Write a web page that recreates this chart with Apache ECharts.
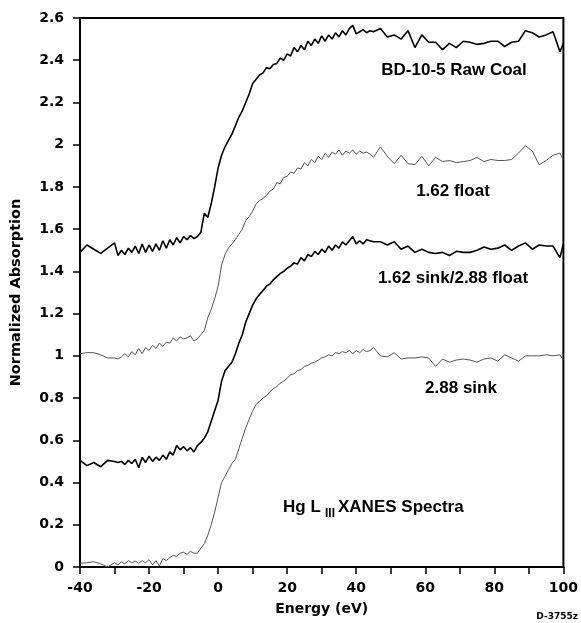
<!DOCTYPE html>
<html>
<head>
<meta charset="utf-8">
<script src="https://cdn.jsdelivr.net/npm/echarts@6/dist/echarts.min.js"></script>
<style>
html,body{margin:0;padding:0;background:#fff;}
#chart{width:581px;height:623px;}
</style>
</head>
<body>
<div id="chart"></div>
<script>
// Energy sample points (eV)
const energy = [-40,-38,-36,-34,-32,
-30,-29,-28,-27,-26,-25,-24,-23,-22,-21,
-20,-19,-18,-17,-16,-15,-14,-13,-12,-11,
-10,-9,-8,-7,-6,-5,-4,-3,-2,-1,
0,1,2,3,4,5,6,7,8,9,
10,11,12,13,14,15,16,17,18,19,
20,21,22,23,24,25,26,27,28,29,
30,31,32,33,34,35,36,37,38,39,
40,41,42,43,44,45,
47,49,51,53,55,57,59,61,63,65,67,69,71,73,75,77,79,81,83,85,87,89,91,93,95,97,99,100];

const rawCoal = [1.49,1.525,1.505,1.485,1.51,
1.535,1.475,1.50,1.48,1.51,1.49,1.52,1.485,1.53,1.49,
1.525,1.495,1.53,1.50,1.545,1.51,1.55,1.525,1.56,1.535,
1.565,1.55,1.57,1.555,1.565,1.585,1.675,1.655,1.72,1.80,
1.89,1.95,1.99,2.02,2.05,2.09,2.13,2.16,2.20,2.24,
2.29,2.31,2.33,2.34,2.365,2.36,2.38,2.385,2.41,2.40,
2.43,2.42,2.46,2.44,2.47,2.45,2.49,2.47,2.50,2.48,
2.515,2.49,2.52,2.50,2.53,2.51,2.54,2.52,2.55,2.565,
2.525,2.535,2.545,2.53,2.54,2.535,
2.55,2.51,2.52,2.50,2.54,2.46,2.52,2.485,2.485,2.45,2.48,2.46,2.49,2.485,2.475,2.48,2.49,2.49,2.465,2.485,2.49,2.54,2.53,2.51,2.52,2.535,2.44,2.48];

const float162 = [1.01,1.015,1.015,1.005,0.99,
0.99,0.985,0.995,1.01,0.995,1.02,1.005,1.035,1.01,1.04,
1.025,1.05,1.035,1.06,1.045,1.065,1.06,1.085,1.07,1.09,
1.08,1.085,1.095,1.07,1.08,1.10,1.12,1.18,1.22,1.27,
1.33,1.43,1.48,1.51,1.53,1.55,1.575,1.60,1.64,1.66,
1.685,1.72,1.735,1.745,1.76,1.78,1.79,1.82,1.815,1.845,
1.85,1.87,1.865,1.89,1.885,1.915,1.90,1.93,1.915,1.945,
1.93,1.96,1.94,1.965,1.955,1.975,1.95,1.97,1.96,1.975,
1.955,1.97,1.96,1.965,1.955,1.94,
1.99,1.945,1.91,1.95,1.91,1.905,1.945,1.90,1.94,1.92,1.925,1.915,1.92,1.925,1.94,1.92,1.93,1.925,1.925,1.93,1.96,1.995,1.97,1.905,1.925,1.95,1.96,1.93];

const sink162float288 = [0.505,0.48,0.495,0.475,0.505,
0.50,0.495,0.50,0.485,0.505,0.49,0.51,0.47,0.52,0.495,
0.525,0.50,0.52,0.505,0.53,0.51,0.545,0.53,0.575,0.555,
0.57,0.55,0.565,0.545,0.575,0.59,0.61,0.64,0.69,0.74,
0.79,0.88,0.93,0.95,0.97,1.01,1.06,1.10,1.16,1.20,
1.24,1.27,1.29,1.31,1.33,1.34,1.36,1.375,1.39,1.40,
1.415,1.425,1.44,1.435,1.465,1.45,1.48,1.47,1.495,1.48,
1.505,1.49,1.52,1.50,1.525,1.51,1.54,1.525,1.545,1.565,
1.53,1.545,1.53,1.55,1.545,1.54,
1.54,1.525,1.54,1.505,1.52,1.49,1.505,1.49,1.485,1.49,1.475,1.495,1.49,1.49,1.50,1.515,1.505,1.51,1.525,1.50,1.52,1.535,1.505,1.525,1.52,1.52,1.465,1.53];

const sink288 = [0.018,0.02,0.025,0.015,0.0,
0.02,0.01,0.025,0.015,0.03,0.02,0.028,0.018,0.03,0.02,
0.035,0.01,0.03,0.005,0.04,0.03,0.045,0.055,0.05,0.065,
0.07,0.06,0.075,0.065,0.065,0.09,0.11,0.15,0.20,0.26,
0.33,0.40,0.43,0.46,0.49,0.51,0.56,0.61,0.66,0.70,
0.74,0.77,0.785,0.80,0.81,0.83,0.845,0.855,0.87,0.88,
0.895,0.91,0.915,0.93,0.935,0.95,0.955,0.965,0.97,0.98,
0.99,0.995,1.005,1.0,1.015,1.01,1.02,1.015,1.025,1.01,
1.025,1.015,1.03,1.02,1.025,1.04,
1.00,0.995,1.015,0.985,0.99,0.99,0.995,0.99,0.95,0.985,0.97,0.98,0.985,0.98,0.97,0.985,0.99,0.975,1.005,0.99,0.975,1.0,1.0,1.0,1.005,1.0,1.005,0.98];

const seriesNames = ['BD-10-5 Raw Coal','1.62 float','1.62 sink/2.88 float','2.88 sink'];
const seriesValues = [rawCoal, float162, sink162float288, sink288];

const xTickLabels = [-40,-20,0,20,40,60,80,100];
const yTickLabels = [0,0.2,0.4,0.6,0.8,1,1.2,1.4,1.6,1.8,2,2.2,2.4,2.6];

const FONT = '"DejaVu Sans", sans-serif';
const AFONT = '"Liberation Sans", Arial, sans-serif';

const styles = [
  {color:'#000', width:1.6},
  {color:'#555', width:1},
  {color:'#000', width:1.6},
  {color:'#555', width:1}
];

const chart = echarts.init(document.getElementById('chart'), null, {renderer:'canvas'});

const option = {
  backgroundColor:'#fff',
  animation:false,
  grid:{left:80, right:17, top:18, bottom:56, show:true, borderColor:'#000', borderWidth:2, backgroundColor:'transparent'},
  xAxis:{
    type:'value', min:-40, max:100, interval:10,
    name:'Energy (eV)', nameLocation:'middle', nameGap:35,
    nameTextStyle:{fontFamily:FONT, fontWeight:'bold', fontSize:14, color:'#000'},
    axisLine:{show:true, onZero:false, lineStyle:{color:'#000', width:2}},
    axisTick:{show:true, length:7, lineStyle:{color:'#000', width:1.5}},
    axisLabel:{margin:14, fontFamily:FONT, fontWeight:'bold', fontSize:14, color:'#000',
      formatter:function(v){ return xTickLabels.indexOf(v) >= 0 ? String(v) : ''; }},
    splitLine:{show:false}
  },
  yAxis:{
    type:'value', min:0, max:2.6, interval:0.2,
    name:'Normalized Absorption', nameLocation:'middle', nameGap:56,
    nameTextStyle:{fontFamily:FONT, fontWeight:'bold', fontSize:14.5, color:'#000'},
    axisLine:{show:true, onZero:false, lineStyle:{color:'#000', width:2}},
    axisTick:{show:true, length:7, lineStyle:{color:'#000', width:1.5}},
    axisLabel:{margin:16, fontFamily:FONT, fontWeight:'bold', fontSize:14, color:'#000',
      formatter:function(v){ const r = Math.round(v*10)/10; return yTickLabels.indexOf(r) >= 0 ? String(r) : ''; }},
    splitLine:{show:false}
  },
  series: seriesNames.map(function(n, k){
    return {
      name:n, type:'line', showSymbol:false, symbol:'none',
      lineStyle:{color:styles[k].color, width:styles[k].width},
      data: energy.map(function(e,i){ return [e, seriesValues[k][i]]; })
    };
  }),
  graphic:[
    {type:'text', x:454, y:70, style:{text:'BD-10-5 Raw Coal', font:'bold 17px '+AFONT, fill:'#000', align:'center', verticalAlign:'middle'}},
    {type:'text', x:453, y:191, style:{text:'1.62 float', font:'bold 17px '+AFONT, fill:'#000', align:'center', verticalAlign:'middle'}},
    {type:'text', x:453, y:278, style:{text:'1.62 sink/2.88 float', font:'bold 17px '+AFONT, fill:'#000', align:'center', verticalAlign:'middle'}},
    {type:'text', x:461, y:388, style:{text:'2.88 sink', font:'bold 17px '+AFONT, fill:'#000', align:'center', verticalAlign:'middle'}},
    {type:'text', x:283, y:507, style:{text:'Hg L', font:'bold 17px '+AFONT, fill:'#000', align:'left', verticalAlign:'middle'}},
    {type:'text', x:325, y:514, style:{text:'III', font:'bold 12px '+AFONT, fill:'#000', align:'left', verticalAlign:'middle'}},
    {type:'text', x:338, y:507, style:{text:'XANES Spectra', font:'bold 17px '+AFONT, fill:'#000', align:'left', verticalAlign:'middle'}},
    {type:'text', x:578, y:617, style:{text:'D-3755z', font:'bold 9px '+FONT, fill:'#000', align:'right', verticalAlign:'middle'}}
  ]
};
chart.setOption(option);
</script>
</body>
</html>
